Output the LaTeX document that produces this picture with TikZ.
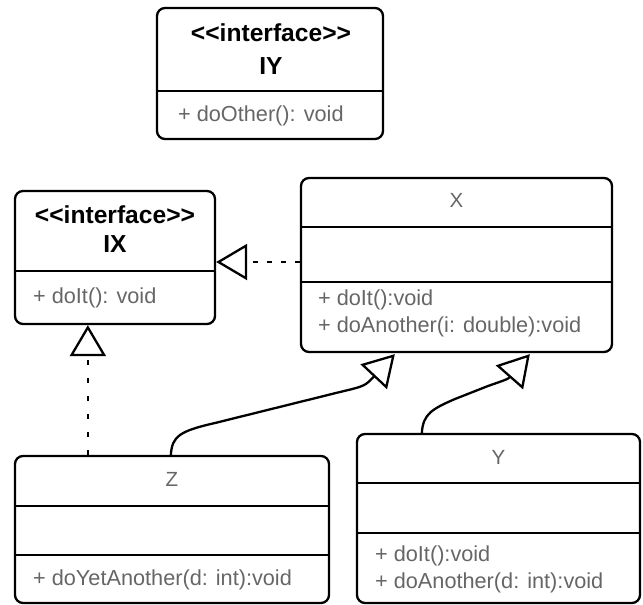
\documentclass[tikz,border=0pt]{standalone}
\usepackage{fontspec}
\setmainfont{Liberation Sans}[Ligatures=TeXOff]
\usetikzlibrary{arrows.meta}
\definecolor{membergray}{HTML}{666666}
\begin{document}
\begin{tikzpicture}[x=1pt,y=-1pt,line width=2.3pt,
  classbox/.style={draw,rounded corners=8pt,inner sep=0pt},
  stereo/.style={font=\bfseries\fontsize{24.6}{28}\selectfont,text=black,inner sep=0pt},
  cname/.style={font=\fontsize{20.5}{24}\selectfont,text=membergray,inner sep=0pt},
  member/.style={anchor=west,font=\fontsize{21.7}{24}\selectfont,text=membergray,inner sep=0pt},
  opentip/.style={-{Triangle[open,length=31pt,width=36pt]}},
  realize/.style={opentip,dash pattern=on 5pt off 9pt},
  inherit/.style={opentip}]
\useasboundingbox (0,0) rectangle (643,605);

% interface IY
\node[classbox,minimum width=226pt,minimum height=131pt] (IY) at (270,73.5) {};
\draw (IY.west |- 0,91) -- (IY.east |- 0,91);
\node[stereo] (IYs) at (271,33) {<<interface>>};
\node[stereo] (IYn) at (271,66) {IY};
\node[member] (IYm) at (177,115.5) {+ doOther(): void};

% interface IX
\node[classbox,minimum width=200pt,minimum height=133pt] (IX) at (115,257.5) {};
\draw (IX.west |- 0,271) -- (IX.east |- 0,271);
\node[stereo] (IXs) at (115,215) {<<interface>>};
\node[stereo] (IXn) at (115,244) {IX};
\node[member] (IXm) at (32,297.5) {+ doIt(): void};

% class X
\node[classbox,minimum width=311pt,minimum height=174pt] (X) at (456.5,265) {};
\draw (X.west |- 0,227) -- (X.east |- 0,227);
\draw (X.west |- 0,282) -- (X.east |- 0,282);
\node[cname] (Xn) at (456.5,200) {X};
\node[member] (Xm1) at (317,299.5) {+ doIt():void};
\node[member] (Xm2) at (317,326.5) {+ doAnother(i: double):void};

% class Z
\node[classbox,minimum width=314pt,minimum height=147pt] (Z) at (172,529.5) {};
\draw (Z.west |- 0,506) -- (Z.east |- 0,506);
\draw (Z.west |- 0,555) -- (Z.east |- 0,555);
\node[cname] (Zn) at (172,479) {Z};
\node[member] (Zm) at (32,579.5) {+ doYetAnother(d: int):void};

% class Y
\node[classbox,minimum width=283pt,minimum height=169pt] (Y) at (498.5,518.5) {};
\draw (Y.west |- 0,483) -- (Y.east |- 0,483);
\draw (Y.west |- 0,533) -- (Y.east |- 0,533);
\node[cname] (Yn) at (498.5,457) {Y};
\node[member] (Ym1) at (374,555.5) {+ doIt():void};
\node[member] (Ym2) at (374,582.5) {+ doAnother(d: int):void};

% realizations
\draw[realize] ([yshift=3pt]X.west) -- ([yshift=3pt]X.west -| IX.east);
\draw[realize,dash pattern=on 5pt off 13pt] ([xshift=74pt]Z.north west) -- ([xshift=74pt]Z.north west |- IX.south);

% generalizations
\draw[inherit] ([xshift=157pt]Z.north west)
  .. controls (172,436) and (180,431) .. (215,423) -- (340,392)
  .. controls (365,386) .. ([xshift=95pt,yshift=-1pt]X.south west);
\draw[inherit] ([xshift=66pt]Y.north west)
  .. controls (423,414) and (432,409) .. (455,399) -- (488,386)
  .. controls (508,379) .. ([xshift=230pt,yshift=-1pt]X.south west);
\end{tikzpicture}
\end{document}
